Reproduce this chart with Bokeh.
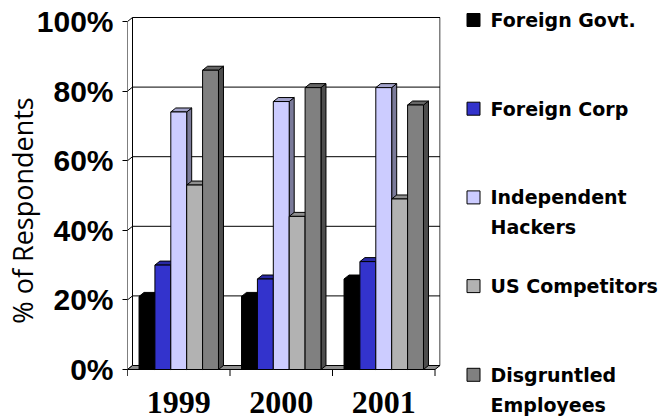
from bokeh.plotting import figure
from bokeh.layouts import row
from bokeh.models import Range1d, FixedTicker
from bokeh.embed import file_html
from bokeh.resources import INLINE
from bokeh.core.properties import value

# ---------------- data ----------------
years = ["1999", "2000", "2001"]
series = ["Foreign Govt.", "Foreign Corp", "Independent Hackers", "US Competitors", "Disgruntled Employees"]
legend_lines = [["Foreign Govt."], ["Foreign Corp"], ["Independent", "Hackers"],
                ["US Competitors"], ["Disgruntled", "Employees"]]
foreign_govt = [21, 21, 26]
foreign_corp = [30, 26, 31]
independent_hackers = [74, 77, 81]
us_competitors = [53, 44, 49]
disgruntled_employees = [86, 81, 76]
values = [foreign_govt, foreign_corp, independent_hackers, us_competitors, disgruntled_employees]
y_ticks = [0, 20, 40, 60, 80, 100]
y_tick_labels = ["0%", "20%", "40%", "60%", "80%", "100%"]

# ---------------- styles ----------------
front_colors = ["#000000", "#3333CC", "#CCCCFF", "#B2B2B2", "#808080"]
top_colors = ["#000000", "#2929A3", "#A3A3CC", "#8E8E8E", "#666666"]
side_colors = ["#000000", "#1F1F7A", "#7A7A99", "#6B6B6B", "#4D4D4D"]

PX_CAT = 102.5      # pixels per category
PX_PCT = 3.48       # pixels per percent
DX = 5 / PX_CAT     # depth offset (x) in data units
DY = 4 / PX_PCT     # depth offset (y) in data units
BAR_W = 0.155
MAIN_W = 448
H = 420
LEFT = 127
FRAME_W = MAIN_W - LEFT - 8
ZERO_PX = 369                      # pixel row of the 0% line
Y_START = -(H - ZERO_PX) / PX_PCT
Y_END = ZERO_PX / PX_PCT           # frame spans the full height

n = len(years)
m = len(series)

p = figure(width=MAIN_W, height=H, output_backend="svg", toolbar_location=None, title=None,
           x_range=Range1d(0, FRAME_W / PX_CAT), y_range=Range1d(Y_START, Y_END),
           x_axis_location=None, min_border_left=LEFT, min_border_right=8,
           min_border_top=0, min_border_bottom=0)
p.outline_line_color = None
p.grid.visible = False
p.background_fill_color = "white"
p.border_fill_color = "white"

# y axis
ya = p.yaxis[0]
ya.ticker = FixedTicker(ticks=y_ticks)
ya.major_label_overrides = {t: lab for t, lab in zip(y_ticks, y_tick_labels)}
ya.axis_line_color = None
ya.major_tick_out = 5
ya.major_tick_in = 0
ya.major_tick_line_color = "black"
ya.minor_tick_line_color = None
ya.major_label_standoff = 9
ya.major_label_text_font = "Liberation Sans"
ya.major_label_text_font_style = "bold"
ya.major_label_text_font_size = "30px"
ya.major_label_text_color = "black"
ya.axis_label = "% of Respondents"
ya.axis_label_text_font = "Open Sans"
ya.axis_label_text_font_style = "normal"
ya.axis_label_text_font_size = "27px"
ya.axis_label_text_color = "black"
ya.axis_label_standoff = -7

# back wall grid lines (with depth slant from front axis)
wall_right = n + DX
grid_xs = [[0, DX, wall_right] for t in y_ticks]
grid_ys = [[t, t + DY, t + DY] for t in y_ticks]
p.multi_line(grid_xs, grid_ys, line_color="black", line_width=1)
p.multi_line([[DX, DX], [wall_right, wall_right]],
             [[DY, y_ticks[-1] + DY], [DY, y_ticks[-1] + DY]],
             line_color="black", line_width=1)

# floor
p.patch([0, n, n + DX, DX], [0, 0, DY, DY], fill_color="#8F8F8F", line_color="black", line_width=1)

# front axis line and category boundary ticks
tick_len = 6.5 / PX_PCT
p.segment(x0=[0], y0=[-tick_len], x1=[0], y1=[y_ticks[-1]], line_color="black", line_width=1)
p.segment(x0=list(range(n + 1)), y0=[0] * (n + 1), x1=list(range(n + 1)),
          y1=[-tick_len] * (n + 1), line_color="black", line_width=1)

# 3D bars
for k, (vals, fc, tc, sc) in enumerate(zip(values, front_colors, top_colors, side_colors)):
    lefts = [i + 0.5 + (k - (m - 1) / 2) * BAR_W - BAR_W / 2 for i in range(n)]
    rights = [l + BAR_W for l in lefts]
    side_xs = [[r, r + DX, r + DX, r] for r in rights]
    side_ys = [[0, DY, v + DY, v] for v in vals]
    top_xs = [[l, r, r + DX, l + DX] for l, r in zip(lefts, rights)]
    top_ys = [[v, v, v + DY, v + DY] for v in vals]
    p.patches(side_xs, side_ys, fill_color=sc, line_color="black", line_width=1)
    p.patches(top_xs, top_ys, fill_color=tc, line_color="black", line_width=1)
    p.quad(left=lefts, right=rights, bottom=0, top=vals, fill_color=fc,
           line_color="black", line_width=1)

# category labels
label_y = -(402 - ZERO_PX) / PX_PCT
p.text(x=[i + 0.5 for i in range(n)], y=[label_y] * n, text=years,
       text_align="center", text_baseline="middle",
       text_font=value("Liberation Serif"), text_font_style="bold",
       text_font_size="32px", text_color="black")

# ---------------- legend ----------------
LEG_W = 661 - MAIN_W
leg = figure(width=LEG_W, height=H, output_backend="svg", toolbar_location=None, title=None,
             x_range=Range1d(0, LEG_W), y_range=Range1d(H, 0),
             x_axis_location=None, y_axis_location=None,
             min_border=0, min_border_left=0, min_border_right=0,
             min_border_top=0, min_border_bottom=0)
leg.outline_line_color = None
leg.grid.visible = False

entry_y0 = 19.5
entry_gap = 88.7
line_gap = 30
sq_x = 25
txt_x = 42
sq_y = [entry_y0 + i * entry_gap for i in range(m)]
leg.scatter(x=[sq_x] * m, y=sq_y, marker="square", size=13,
            fill_color=front_colors, line_color="black", line_width=1)
tx, ty, tt = [], [], []
for i, lines in enumerate(legend_lines):
    for j, ln in enumerate(lines):
        tx.append(txt_x)
        ty.append(sq_y[i] + j * line_gap)
        tt.append(ln)
leg.text(x=tx, y=ty, text=tt, text_align="left", text_baseline="middle",
         text_font=value("DejaVu Sans"), text_font_style="bold",
         text_font_size="19px", text_color="black")

layout = row(p, leg)
open("out.html", "w").write(file_html(layout, INLINE))
